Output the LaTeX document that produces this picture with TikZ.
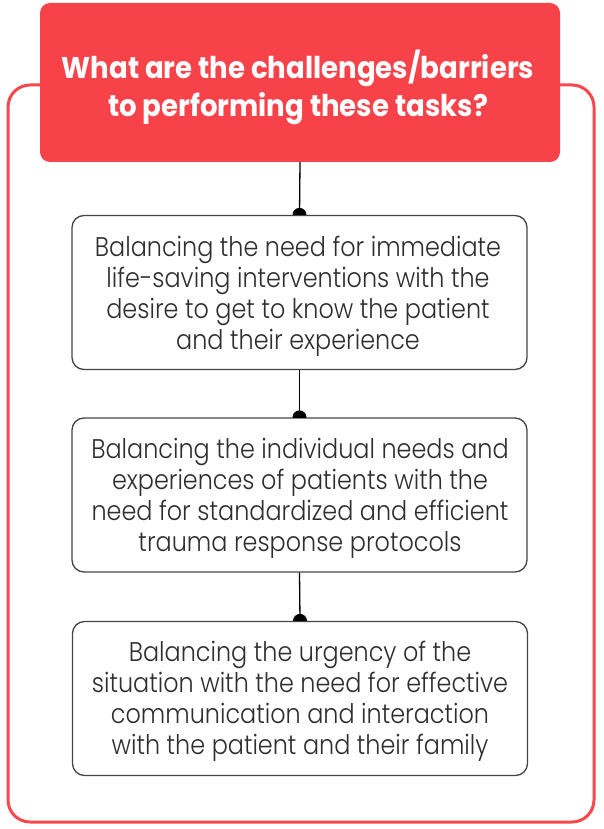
\documentclass[tikz,border=0pt]{standalone}
\usepackage{fontspec}
\setmainfont{Poppins}
\newfontfamily\hfont{Poppins}[FakeStretch=0.92]
\newfontfamily\bfont{Poppins}[UprightFont=* Light, FakeStretch=0.885]
\definecolor{hdr}{HTML}{F8424A}
\definecolor{frm}{HTML}{F9474E}
\definecolor{bx}{HTML}{454545}
\definecolor{txt}{HTML}{2E2E2E}
\begin{document}
\begin{tikzpicture}[x=1pt,y=-1pt,
  header/.style={fill=hdr, rounded corners=10pt,
    minimum width=520pt, minimum height=159pt, inner sep=0pt},
  headtext/.style={text=white, font=\hfont\bfseries\fontsize{30}{38}\selectfont,
    align=center, inner sep=0pt},
  itembox/.style={draw=bx, line width=1.3pt, rounded corners=12pt, fill=white,
    minimum width=455pt, minimum height=154pt, inner sep=0pt},
  itemtext/.style={text=txt, align=center, inner sep=0pt,
    font=\bfont\fontsize{27}{31}\selectfont},
  conn/.style={line width=1.3pt, draw=black},
  dotstyle/.style={fill=black}]
\useasboundingbox (0,0) rectangle (603,829);
\draw[frm, line width=3pt, rounded corners=22pt] (8,85) rectangle (594,822);
\node[header] (h) at (300,82.5) {};
\node[headtext] (ht) at (298,87) {What are the challenges/barriers\\to performing these tasks?};
\node[itembox] (b1) at (299.5,292.5) {};
\node[itembox] (b2) at (299.5,495) {};
\node[itembox] (b3) at (300,698.5) {};
\node[itemtext] (t1) at (298,296) {Balancing the need for immediate\\life-saving interventions with the\\desire to get to know the patient\\and their experience};
\node[itemtext] (t2) at (300,498) {Balancing the individual needs and\\experiences of patients with the\\need for standardized and efficient\\trauma response protocols};
\node[itemtext] (t3) at (300,701) {Balancing the urgency of the\\situation with the need for effective\\communication and interaction\\with the patient and their family};
\draw[conn] (h.south) -- (b1.north);
\draw[conn] (b1.south) -- (b2.north);
\draw[conn] (b2.south) -- (b3.north);
\foreach \b in {b1,b2,b3}{
  \begin{scope}
    \clip ([xshift=-9pt,yshift=9pt]\b.north) rectangle ([xshift=9pt]\b.north);
    \fill[dotstyle] (\b.north) circle (7pt);
  \end{scope}
}
\end{tikzpicture}
\end{document}
